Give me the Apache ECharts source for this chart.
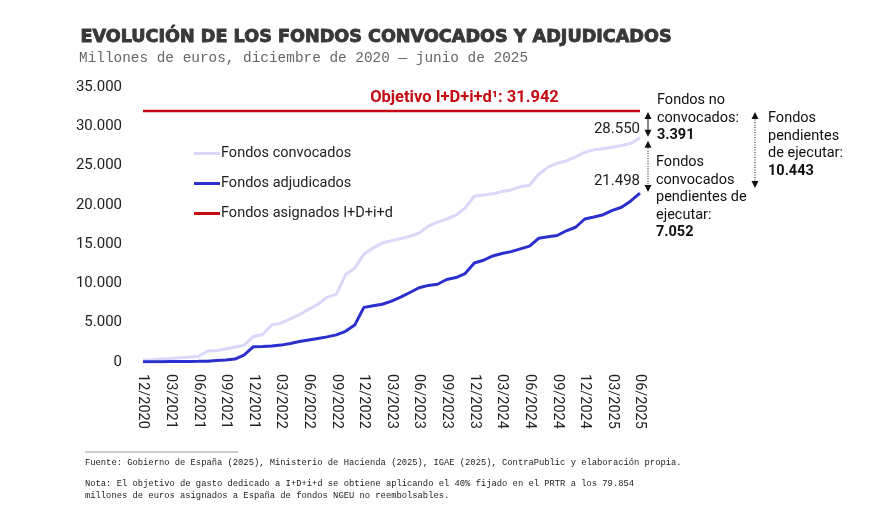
<!DOCTYPE html>
<html>
<head>
<meta charset="utf-8">
<script src="https://cdn.jsdelivr.net/npm/echarts@6/dist/echarts.min.js"></script>
<style>
  html, body { margin: 0; padding: 0; background: #fff; }
  #chart { width: 877px; height: 532px; }
</style>
</head>
<body>
<div id="chart"></div>
<script>
// meses (fin de mes), diciembre 2020 - junio 2025
const months = [
  '12/2020',
  '01/2021', '02/2021', '03/2021', '04/2021', '05/2021', '06/2021', '07/2021', '08/2021', '09/2021', '10/2021', '11/2021', '12/2021',
  '01/2022', '02/2022', '03/2022', '04/2022', '05/2022', '06/2022', '07/2022', '08/2022', '09/2022', '10/2022', '11/2022', '12/2022',
  '01/2023', '02/2023', '03/2023', '04/2023', '05/2023', '06/2023', '07/2023', '08/2023', '09/2023', '10/2023', '11/2023', '12/2023',
  '01/2024', '02/2024', '03/2024', '04/2024', '05/2024', '06/2024', '07/2024', '08/2024', '09/2024', '10/2024', '11/2024', '12/2024',
  '01/2025', '02/2025', '03/2025', '04/2025', '05/2025', '06/2025'
];

// millones de euros
const convocados = [250, 300, 380, 460, 540, 620, 700, 1400, 1450, 1650, 1900, 2150, 3250, 3500, 4700, 4950, 5500, 6050, 6700, 7350, 8250, 8600, 11100, 11950, 13700, 14500, 15150, 15450, 15700, 16000, 16400, 17300, 17800, 18200, 18700, 19600, 21100, 21250, 21400, 21700, 21900, 22300, 22500, 23900, 24800, 25300, 25600, 26100, 26700, 27000, 27150, 27350, 27550, 27800, 28550];
const adjudicados = [20, 30, 40, 50, 60, 70, 80, 100, 180, 260, 380, 900, 1950, 1980, 2050, 2150, 2350, 2600, 2800, 3000, 3200, 3450, 3900, 4700, 6950, 7150, 7350, 7750, 8250, 8850, 9450, 9750, 9900, 10500, 10750, 11250, 12600, 12950, 13500, 13800, 14050, 14400, 14750, 15750, 15950, 16100, 16700, 17150, 18200, 18450, 18750, 19300, 19700, 20500, 21498];
const objetivo = 31942;
const asignados = months.map(() => objetivo);

const seriesNames = ['Fondos convocados', 'Fondos adjudicados', 'Fondos asignados I+D+i+d'];
const noConvocadosTxt = ['Fondos no', 'convocados:', '3.391'];
const pendConvTxt = ['Fondos', 'convocados', 'pendientes de', 'ejecutar:', '7.052'];
const pendTotalTxt = ['Fondos', 'pendientes', 'de ejecutar:', '10.443'];

const lightColor = '#d9d7fa';
const blueColor = '#2b30cc';
const redColor = '#c40a12';
const txtColor = '#222';

function fmt(v) {
  return String(Math.round(v)).replace(/\B(?=(\d{3})+(?!\d))/g, '.');
}

const chart = echarts.init(document.getElementById('chart'));

const option = {
  backgroundColor: '#fff',
  animation: false,
  textStyle: { fontFamily: 'Roboto' },
  grid: { left: 143, right: 237, top: 87, bottom: 170 },
  legend: {
    orient: 'vertical',
    left: 189,
    top: 141,
    icon: 'rect',
    itemWidth: 26,
    itemHeight: 3,
    itemGap: 15,
    data: seriesNames,
    textStyle: { fontSize: 14.5, color: txtColor, fontFamily: 'Roboto', padding: [0, 0, 0, -4], lineHeight: 15 }
  },
  xAxis: {
    type: 'category',
    data: months,
    boundaryGap: false,
    axisLine: { show: false },
    axisTick: { show: false },
    axisLabel: {
      interval: 2,
      rotate: -90,
      margin: 12,
      fontSize: 14.5,
      color: txtColor,
      fontFamily: 'Roboto'
    }
  },
  yAxis: {
    type: 'value',
    min: 0,
    max: 35000,
    interval: 5000,
    splitLine: { show: false },
    axisLine: { show: false },
    axisTick: { show: false },
    axisLabel: {
      margin: 21,
      fontSize: 15,
      color: txtColor,
      fontFamily: 'Roboto',
      formatter: fmt
    }
  },
  series: [
    {
      name: seriesNames[0],
      type: 'line',
      data: convocados,
      symbol: 'none',
      lineStyle: { color: lightColor, width: 3 },
      itemStyle: { color: lightColor },
      endLabel: {
        show: true,
        align: 'right',
        verticalAlign: 'bottom',
        offset: [-8, -1],
        fontSize: 15,
        color: txtColor,
        formatter: p => fmt(p.value)
      },
      z: 3
    },
    {
      name: seriesNames[1],
      type: 'line',
      data: adjudicados,
      symbol: 'none',
      lineStyle: { color: blueColor, width: 3 },
      itemStyle: { color: blueColor },
      endLabel: {
        show: true,
        align: 'right',
        verticalAlign: 'bottom',
        offset: [-8, -4],
        fontSize: 15,
        color: txtColor,
        formatter: p => fmt(p.value)
      },
      z: 4
    },
    {
      name: seriesNames[2],
      type: 'line',
      data: asignados,
      symbol: 'none',
      lineStyle: { color: redColor, width: 2.5 },
      itemStyle: { color: redColor },
      z: 2
    }
  ]
};

chart.setOption(option);

// anotaciones situadas con las escalas del gráfico
const last = months.length - 1;
const xEnd = chart.convertToPixel({ xAxisIndex: 0 }, months[last]);
const xStart = chart.convertToPixel({ xAxisIndex: 0 }, months[0]);
const yRed = chart.convertToPixel({ yAxisIndex: 0 }, objetivo);
const yConv = chart.convertToPixel({ yAxisIndex: 0 }, convocados[last]);
const yAdj = chart.convertToPixel({ yAxisIndex: 0 }, adjudicados[last]);

function arrowHead(x, y, up) {
  const d = up ? 1 : -1;
  return {
    type: 'polygon',
    shape: { points: [[x - 3.5, y + d * 7], [x + 3.5, y + d * 7], [x, y]] },
    style: { fill: '#111' }
  };
}

function vArrow(x, y1, y2, dotted) {
  return [
    {
      type: 'line',
      shape: { x1: x, y1: y1 + 5, x2: x, y2: y2 - 5 },
      style: { stroke: '#111', lineWidth: 1, lineDash: dotted ? [1, 1.5] : null }
    },
    arrowHead(x, y1, true),
    arrowHead(x, y2, false)
  ];
}

function textBlock(x, y, lines, lh) {
  return lines.map((t, i) => ({
    type: 'text',
    left: x,
    top: y + i * lh,
    style: {
      text: t,
      fill: '#111',
      font: (i === lines.length - 1 ? 'bold ' : '') + '14.5px Roboto'
    }
  }));
}

const ax = xEnd + 8;
const graphics = [
  {
    type: 'text',
    left: 80,
    top: 28,
    style: {
      text: 'EVOLUCIÓN DE LOS FONDOS CONVOCADOS Y ADJUDICADOS',
      fill: '#383838',
      stroke: '#383838',
      lineWidth: 0.9,
      font: 'bold 17.6px "DejaVu Sans"'
    }
  },
  {
    type: 'text',
    left: 79,
    top: 51,
    style: {
      text: 'Millones de euros, diciembre de 2020 — junio de 2025',
      fill: '#666',
      font: '14.4px "Liberation Mono"'
    }
  },
  {
    type: 'text',
    x: (xStart + xEnd) / 2 + 73,
    y: yRed - 5,
    style: {
      text: 'Objetivo I+D+i+d¹: ' + fmt(objetivo),
      fill: redColor,
      font: 'bold 16.5px "Roboto"',
      align: 'center',
      verticalAlign: 'bottom'
    }
  },
  ...vArrow(ax, yRed + 1, yConv - 1, false),
  ...vArrow(ax, yConv + 3, yAdj - 1, true),
  ...vArrow(ax + 107, yRed + 1, yAdj - 5, true),
  ...textBlock(657, 93, noConvocadosTxt, 17.5),
  ...textBlock(656, 155, pendConvTxt, 17.5),
  ...textBlock(768, 111, pendTotalTxt, 17.5),
  {
    type: 'line',
    shape: { x1: 85, y1: 452, x2: 238, y2: 452 },
    style: { stroke: '#999', lineWidth: 1 }
  },
  {
    type: 'text',
    left: 85,
    top: 458,
    style: {
      text: 'Fuente: Gobierno de España (2025), Ministerio de Hacienda (2025), IGAE (2025), ContraPublic y elaboración propia.',
      fill: '#222',
      font: '8.8px "Liberation Mono"'
    }
  },
  {
    type: 'text',
    left: 85,
    top: 478,
    style: {
      text: 'Nota: El objetivo de gasto dedicado a I+D+i+d se obtiene aplicando el 40% fijado en el PRTR a los 79.854\nmillones de euros asignados a España de fondos NGEU no reembolsables.',
      fill: '#222',
      font: '8.8px "Liberation Mono"',
      lineHeight: 12
    }
  }
];

chart.setOption({ graphic: graphics });
</script>
</body>
</html>
